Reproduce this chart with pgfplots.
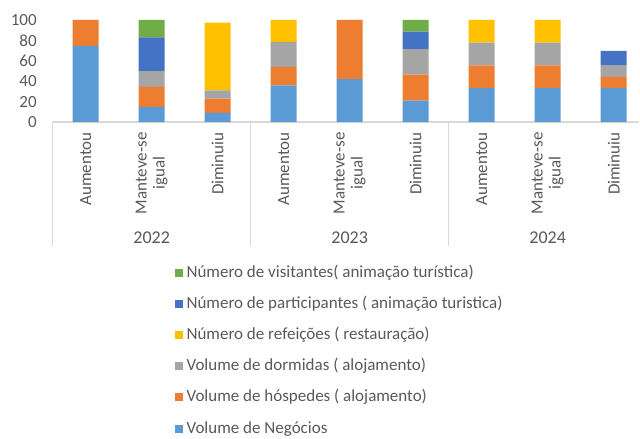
\documentclass[border=0pt]{standalone}
\usepackage{pgfplots}
\pgfplotsset{compat=1.18}
\usepackage{fontspec}
\setmainfont{Carlito}
\definecolor{cNeg}{HTML}{5B9BD5}
\definecolor{cHos}{HTML}{ED7D31}
\definecolor{cDor}{HTML}{A5A5A5}
\definecolor{cRef}{HTML}{FFC000}
\definecolor{cPar}{HTML}{4472C4}
\definecolor{cVis}{HTML}{70AD47}
\definecolor{txt}{HTML}{595959}
\definecolor{axg}{HTML}{D9D9D9}
\pgfplotsset{sqlegend/.style={legend image code/.code={\fill[##1] (0pt,-2pt) rectangle (4pt,2pt);}}}
\begin{document}
\begin{tikzpicture}
\begin{axis}[
  x=33pt, y=0.51pt,
  xmin=-0.5, xmax=8.39, ymin=0, ymax=100,
  enlargelimits=false,
  ybar stacked, bar width=13pt,
  axis lines*=left,
  y axis line style={draw=none},
  x axis line style={-, draw=axg, line width=0.6pt},
  tick style={draw=none},
  ytick={0,20,40,60,80,100},
  /pgf/number format/assume math mode=true,
  yticklabel style={font=\fontsize{8.5}{8.5}\selectfont, text=txt, inner sep=0pt},
  yticklabel shift=7.8pt,
  xtick={0,...,8},
  xticklabels={Aumentou,{Manteve-se\\igual},Diminuiu,Aumentou,{Manteve-se\\igual},Diminuiu,Aumentou,{Manteve-se\\igual},Diminuiu},
  xticklabel style={rotate=90, anchor=east, align=center, inner sep=0pt, font=\fontsize{8.5}{9}\selectfont, text=txt},
  xticklabel shift=5pt,
  clip=false,
  legend style={at={(0.2084,-1.39)}, anchor=north west, draw=none, fill=none,
    font=\fontsize{8.5}{8.5}\selectfont, text=txt, inner sep=0pt, row sep=7.1pt,
    nodes={inner ysep=0pt, inner xsep=1.6pt, text height=6.5pt, text depth=2pt}},
  legend cell align=left,
  reverse legend,
]
\addplot[fill=cNeg, draw=none, sqlegend] coordinates {(0,74.5) (1,14.5) (2,9) (3,36) (4,42) (5,21) (6,33.3) (7,33.3) (8,33.3)};
\addplot[fill=cHos, draw=none, sqlegend] coordinates {(0,25.5) (1,20) (2,14) (3,18) (4,58) (5,25.5) (6,22.2) (7,22.2) (8,11)};
\addplot[fill=cDor, draw=none, sqlegend] coordinates {(0,0) (1,15.5) (2,8) (3,24.5) (4,0) (5,25) (6,22.2) (7,22.2) (8,11.5)};
\addplot[fill=cRef, draw=none, sqlegend] coordinates {(0,0) (1,0) (2,66.5) (3,21.5) (4,0) (5,0) (6,22.3) (7,22.3) (8,0)};
\addplot[fill=cPar, draw=none, sqlegend] coordinates {(0,0) (1,33) (2,0) (3,0) (4,0) (5,17) (6,0) (7,0) (8,14)};
\addplot[fill=cVis, draw=none, sqlegend] coordinates {(0,0) (1,17) (2,0) (3,0) (4,0) (5,11.5) (6,0) (7,0) (8,0)};
\legend{Volume de Negócios,Volume de hóspedes ( alojamento),Volume de dormidas ( alojamento),Número de refeições ( restauração),Número de participantes ( animação turistica),Número de visitantes( animação turística)}
\draw[axg, line width=0.6pt] (axis cs:-0.5,0) -- ++(0pt,-62pt);
\draw[axg, line width=0.6pt] (axis cs:2.5,0) -- ++(0pt,-62pt);
\draw[axg, line width=0.6pt] (axis cs:5.5,0) -- ++(0pt,-62pt);
\node[text=txt, font=\fontsize{9}{9}\selectfont] at ([yshift=-57.8pt]axis cs:1,0) {2022};
\node[text=txt, font=\fontsize{9}{9}\selectfont] at ([yshift=-57.8pt]axis cs:4,0) {2023};
\node[text=txt, font=\fontsize{9}{9}\selectfont] at ([yshift=-57.8pt]axis cs:7,0) {2024};
\coordinate (O) at (axis cs:-0.5,0);
\end{axis}
\pgfresetboundingbox
\path ([shift={(-26.35pt,61pt)}]O) rectangle ([shift={(293.65pt,-158pt)}]O);
\end{tikzpicture}
\end{document}
